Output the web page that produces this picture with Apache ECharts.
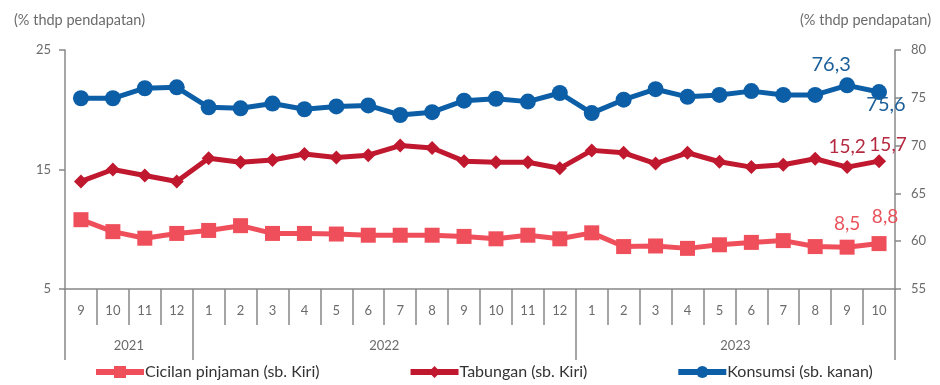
<!DOCTYPE html>
<html>
<head>
<meta charset="utf-8">
<script src="https://cdn.jsdelivr.net/npm/echarts@6/dist/echarts.min.js"></script>
<style>
  html, body { margin: 0; padding: 0; background: #fff; }
  #chart { width: 940px; height: 385px; }
</style>
</head>
<body>
<div id="chart"></div>
<script>
const months = ["9", "10", "11", "12", "1", "2", "3", "4", "5", "6", "7", "8", "9", "10", "11", "12", "1", "2", "3", "4", "5", "6", "7", "8", "9", "10"];
const years = ["2021", "2022", "2023"];
// year groups: start index of each group (in months) and end of the axis
const yearBounds = [0, 4, 16, 26];

const cicilan = [10.8, 9.8, 9.25, 9.65, 9.9, 10.3, 9.65, 9.65, 9.6, 9.5, 9.5, 9.5, 9.4, 9.2, 9.5, 9.2, 9.7, 8.55, 8.6, 8.4, 8.7, 8.9, 9.05, 8.55, 8.5, 8.8];
const tabungan = [14.0, 15.0, 14.5, 14.0, 15.95, 15.6, 15.8, 16.3, 16.0, 16.2, 17.0, 16.8, 15.7, 15.6, 15.6, 15.1, 16.6, 16.4, 15.5, 16.4, 15.65, 15.2, 15.4, 15.9, 15.2, 15.7];
const konsumsi = [74.95, 74.95, 76.0, 76.1, 74.0, 73.9, 74.4, 73.8, 74.1, 74.2, 73.2, 73.5, 74.7, 74.9, 74.6, 75.5, 73.4, 74.8, 75.9, 75.1, 75.3, 75.7, 75.3, 75.3, 76.3, 75.6];

const seriesNames = ["Cicilan pinjaman (sb. Kiri)", "Tabungan (sb. Kiri)", "Konsumsi (sb. kanan)"];

const FONT = "Lato";
const GREY = "#6b6b6b";

function fmt(v) { return String(v).replace(".", ","); }

// only the last two points carry a value label
function withLabels(values, color, size, labelOpts) {
  return values.map((v, i) => {
    const k = i - (values.length - 2);
    if (k < 0) return v;
    return {
      value: v,
      label: Object.assign({
        show: true, color: color, fontSize: size, fontFamily: FONT,
        formatter: p => fmt(p.value)
      }, labelOpts[k])
    };
  });
}

const chart = echarts.init(document.getElementById("chart"));

// midpoints of year groups, for the year labels
const yearMids = years.map((y, i) => (yearBounds[i] + yearBounds[i + 1]) / 2);

const option = {
  animation: false,
  textStyle: { fontFamily: FONT },
  title: [
    { text: "(% thdp pendapatan)", left: 9, top: 8, textStyle: { fontSize: 14.5, fontWeight: "normal", color: GREY, fontFamily: FONT } },
    { text: "(% thdp pendapatan)", right: 4, top: 8, textStyle: { fontSize: 14.5, fontWeight: "normal", color: GREY, fontFamily: FONT } }
  ],
  legend: {
    bottom: 0,
    left: 88,
    itemGap: 88,
    itemWidth: 48,
    itemHeight: 15,
    lineStyle: { width: 6 },
    textStyle: { fontSize: 16, color: "#333", fontFamily: FONT, padding: [0, 0, 0, -4] },
    data: seriesNames
  },
  grid: { left: 65, right: 45, top: 50, bottom: 96 },
  xAxis: [
    {
      type: "category",
      data: months,
      boundaryGap: true,
      axisLine: { lineStyle: { color: "#888", width: 1.5 } },
      axisTick: { show: true, interval: 0, length: 36, lineStyle: { color: "#888", width: 1.5 } },
      axisLabel: { interval: 0, margin: 15, fontSize: 13, color: GREY, fontFamily: FONT }
    },
    {
      type: "value",
      position: "bottom",
      min: 0,
      max: 26,
      splitLine: { show: false },
      axisLine: { show: false },
      axisTick: { show: true, customValues: yearBounds, length: 71, lineStyle: { color: "#888", width: 1.5 } },
      axisLabel: {
        customValues: yearMids,
        margin: 50,
        fontSize: 13,
        color: GREY,
        fontFamily: FONT,
        formatter: v => years[yearMids.indexOf(v)] || ""
      }
    }
  ],
  yAxis: [
    {
      type: "value",
      min: 5, max: 25, interval: 10,
      splitLine: { show: false },
      axisLine: { show: true, lineStyle: { color: "#888", width: 1.5 } },
      axisTick: { show: true, length: 6, lineStyle: { color: "#888", width: 1.5 } },
      axisLabel: { margin: 14, fontSize: 13, color: GREY, fontFamily: FONT }
    },
    {
      type: "value",
      min: 55, max: 80, interval: 5,
      splitLine: { show: false },
      axisLine: { show: true, lineStyle: { color: "#888", width: 1.5 } },
      axisTick: { show: true, length: 6, lineStyle: { color: "#888", width: 1.5 } },
      axisLabel: { margin: 16, fontSize: 13, color: GREY, fontFamily: FONT }
    }
  ],
  series: [
    {
      name: seriesNames[0],
      type: "line",
      yAxisIndex: 0,
      symbol: "rect",
      symbolSize: 15,
      lineStyle: { width: 5, color: "#EF4F5A" },
      itemStyle: { color: "#EF4F5A" },
      data: withLabels(cicilan, "#E9545D", 19, [
        { position: "top", distance: 6 },
        { position: "top", distance: 10, offset: [6, 0] }
      ])
    },
    {
      name: seriesNames[1],
      type: "line",
      yAxisIndex: 0,
      symbol: "diamond",
      symbolSize: 14,
      lineStyle: { width: 5, color: "#C0182E" },
      itemStyle: { color: "#C0182E" },
      data: withLabels(tabungan, "#B52A40", 19, [
        { position: "top", distance: 4 },
        { position: "top", distance: 0, offset: [9, 0] }
      ])
    },
    {
      name: seriesNames[2],
      type: "line",
      yAxisIndex: 1,
      symbol: "circle",
      symbolSize: 16,
      lineStyle: { width: 5, color: "#0C5EA6" },
      itemStyle: { color: "#0C5EA6" },
      data: withLabels(konsumsi, "#1C5F99", 20, [
        { position: "top", distance: 3, offset: [-16, 0] },
        { position: "bottom", distance: -6, offset: [7, 0] }
      ])
    }
  ]
};

chart.setOption(option);
</script>
</body>
</html>
